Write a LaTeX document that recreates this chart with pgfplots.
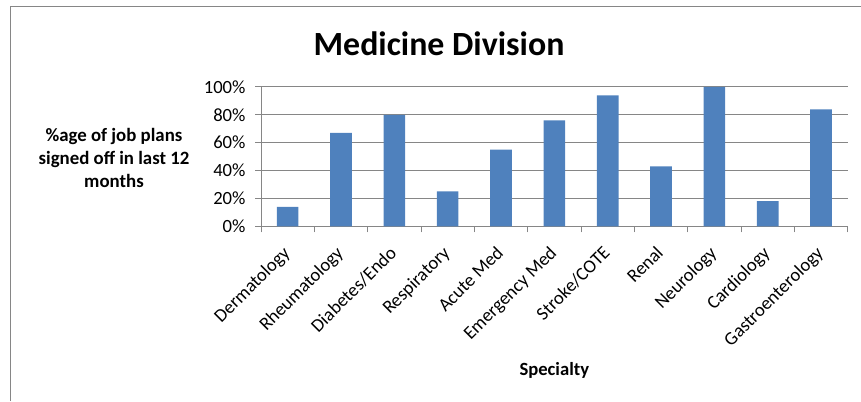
\documentclass[border=0pt]{standalone}
\usepackage{pgfplots}
\pgfplotsset{compat=1.18}
\usepackage{fontspec}
\setmainfont{Carlito}
\definecolor{barblue}{HTML}{4F81BD}
\definecolor{axgray}{HTML}{868686}
\begin{document}
\begin{tikzpicture}[x=1bp,y=1bp]
\useasboundingbox (0,0) rectangle (861,401);
% chart frame
\draw[axgray, line width=1bp] (10.5,0) -- (10.5,394.5) -- (861,394.5);
% title and axis titles
\node[font=\fontsize{34}{40}\selectfont\bfseries, anchor=base] at (439,346) {Medicine Division};
\node[font=\fontsize{18.9}{23.5}\selectfont\bfseries, align=center] at (114,243)
  {\%age of job plans\\signed off in last 12\\months};
\node[font=\fontsize{18.7}{22}\selectfont\bfseries, anchor=base] at (554.3,26) {Specialty};
\begin{axis}[
  at={(261bp,174.7bp)}, anchor=south west,
  scale only axis, width=586.7bp, height=139.3bp,
  ybar, bar width=0.405,
  xmin=-0.5, xmax=10.5, ymin=0, ymax=100,
  axis x line*=bottom, axis y line*=left,
  axis line style={axgray, line width=1bp},
  ytick={0,20,...,100},
  yticklabel={\pgfmathprintnumber{\tick}\%},
  ymajorgrids, grid style={axgray, line width=1bp},
  xtick={0,...,10},
  xticklabels={Dermatology,Rheumatology,Diabetes/Endo,Respiratory,Acute Med,Emergency Med,Stroke/COTE,Renal,Neurology,Cardiology,Gastroenterology},
  major x tick style={draw=none},
  minor xtick={-0.5,0.5,...,10.5},
  tick align=outside,
  major tick length=6bp, minor tick length=6bp,
  tick style={axgray, line width=1bp},
  xticklabel style={xshift=-6bp, yshift=-11bp, rotate=45, anchor=north east,
    font=\fontsize{18.7}{20}\selectfont, inner sep=1bp},
  yticklabel style={xshift=-6bp, font=\fontsize{18.7}{20}\selectfont},
  /pgf/number format/assume math mode=true,
]
\addplot[fill=barblue, draw=none] coordinates {
  (0,14) (1,67) (2,80) (3,25) (4,55) (5,76) (6,94) (7,43) (8,100) (9,18) (10,84)
};
\end{axis}
\end{tikzpicture}
\end{document}
